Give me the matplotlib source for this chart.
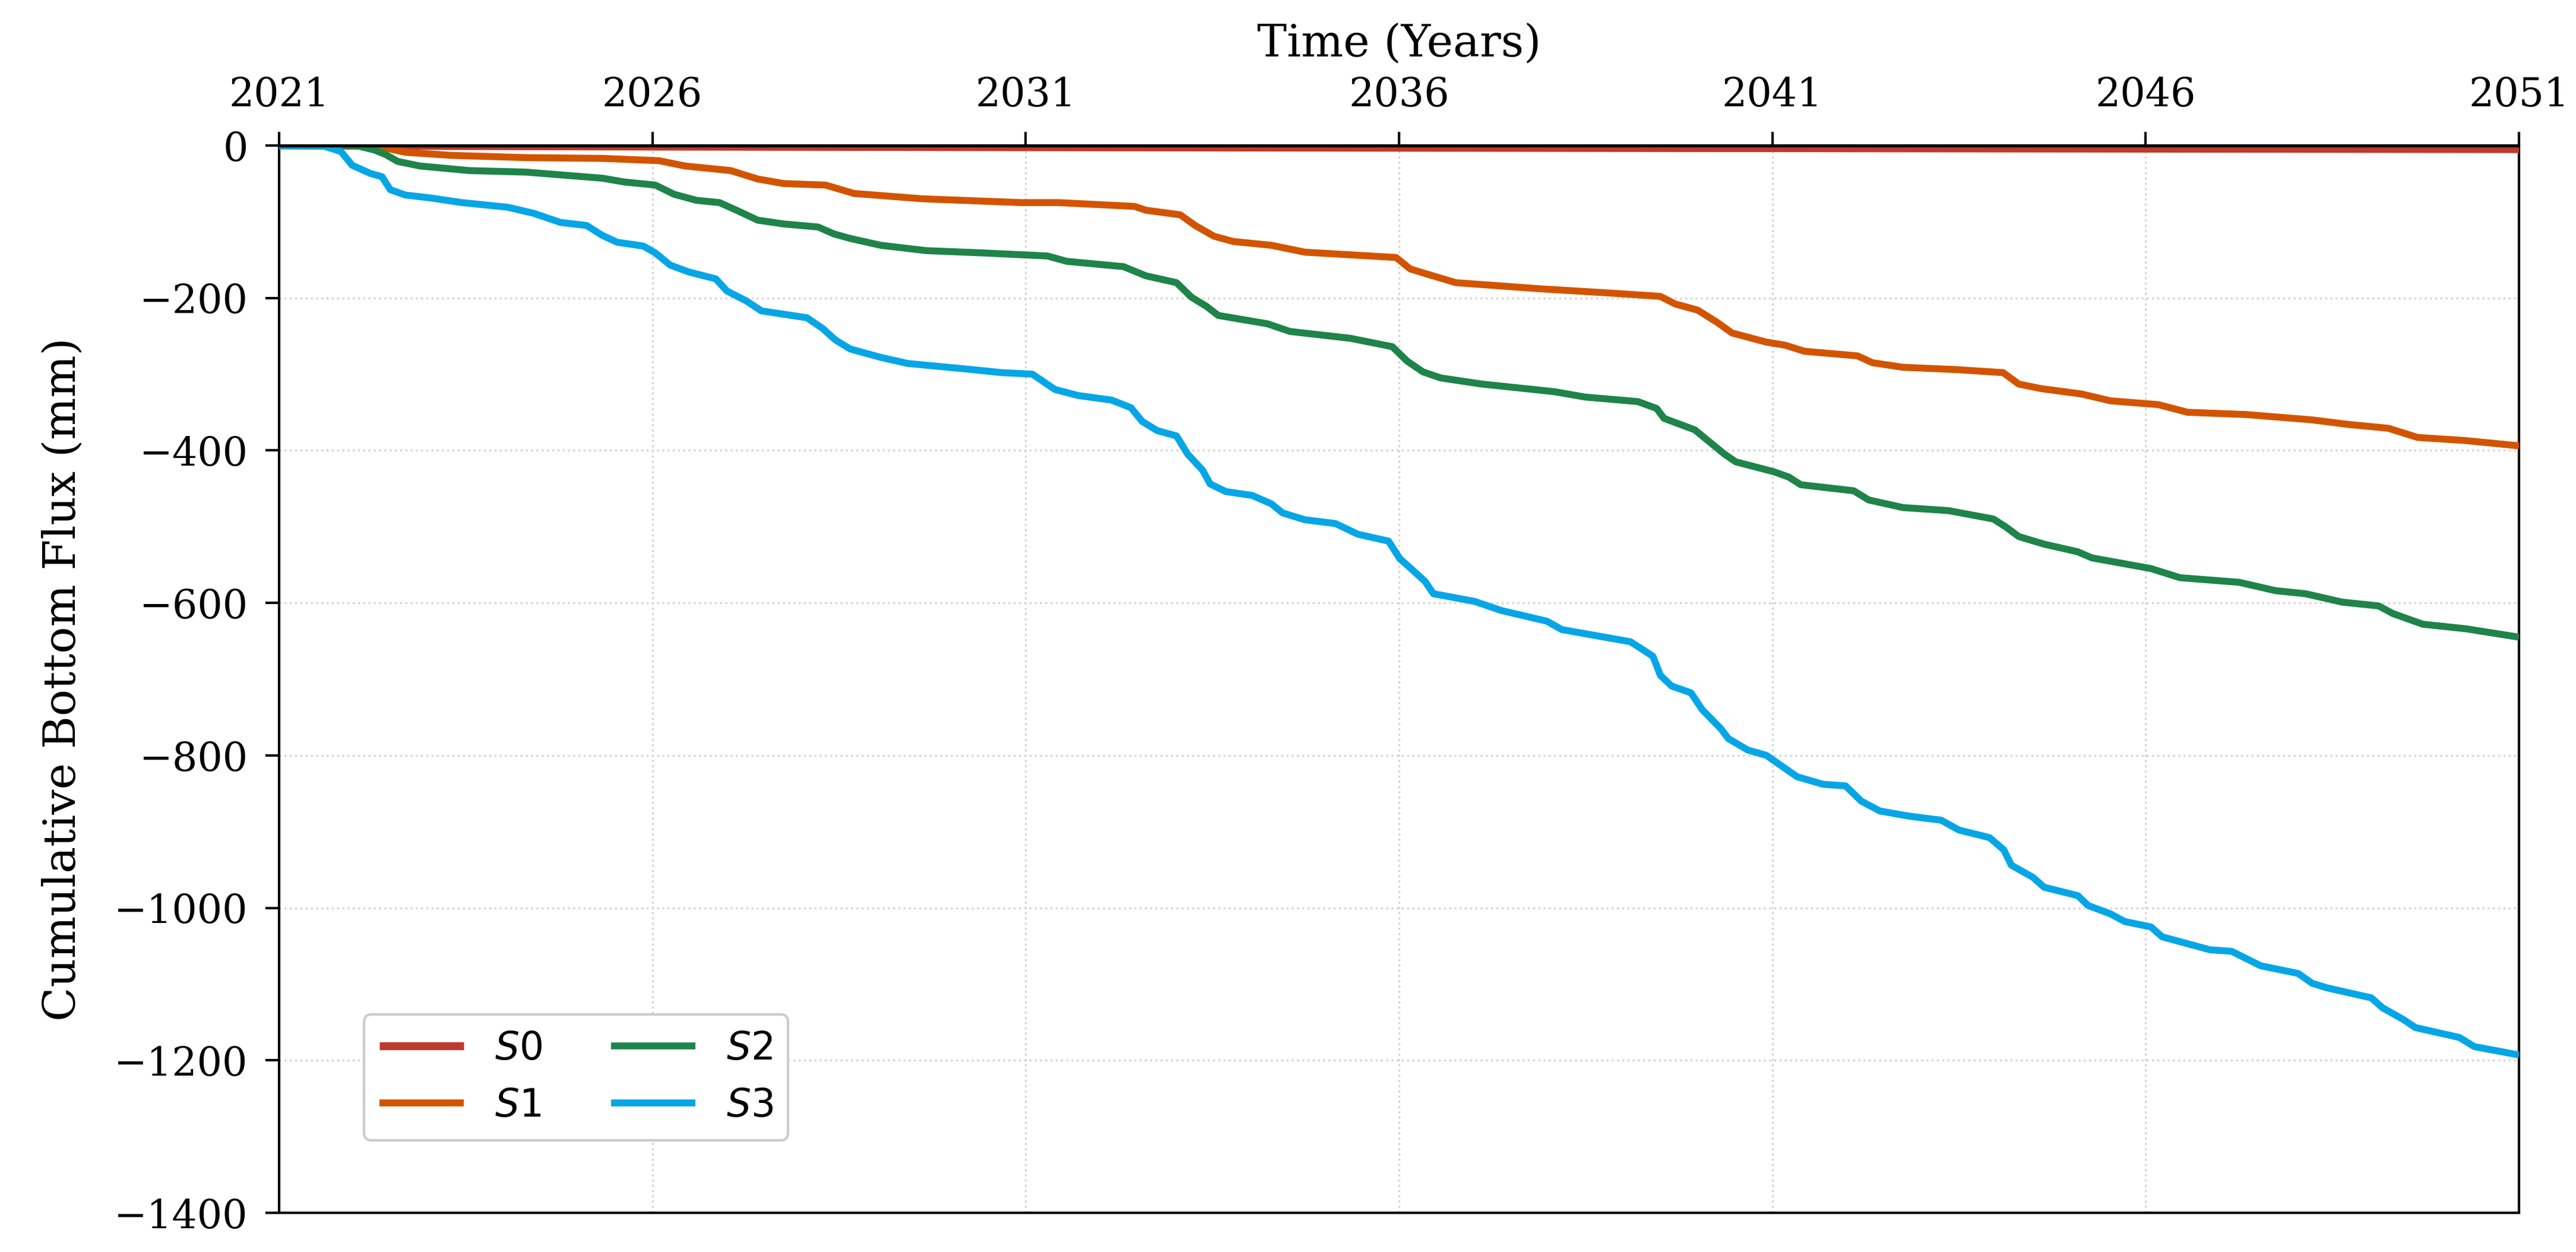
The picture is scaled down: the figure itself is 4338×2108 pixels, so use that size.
import matplotlib
matplotlib.use("Agg")
import matplotlib.pyplot as plt
import numpy as np

plt.rcParams['font.family'] = 'DejaVu Serif'
plt.rcParams['mathtext.fontset'] = 'dejavusans'

# values (decimal years, mm)
s0_years = [2021.0, 2022.5, 2026.0, 2031.0, 2036.0, 2041.0, 2046.0, 2051.0]
s0_flux = [0, -0.5, -1.5, -2.3, -3.0, -3.6, -4.2, -4.8]

s1_years = [2021.0, 2022.28, 2022.69, 2023.3, 2024.31, 2025.33, 2026.09, 2026.44, 2027.05, 2027.41,
            2027.76, 2028.32, 2028.7, 2029.62, 2030.94, 2031.44, 2032.46, 2032.61, 2033.07, 2033.27,
            2033.52, 2033.78, 2034.29, 2034.74, 2035.96, 2036.15, 2036.35, 2036.76, 2037.88, 2038.89,
            2039.5, 2039.7, 2040.0, 2040.26, 2040.46, 2040.92, 2041.17, 2041.43, 2042.14, 2042.34,
            2042.75, 2043.46, 2044.09, 2044.3, 2044.6, 2045.14, 2045.53, 2046.17, 2046.56, 2047.35,
            2048.23, 2048.72, 2049.25, 2049.64, 2050.27, 2051.0]
s1_flux = [0, 0, -9, -13, -16, -17, -20, -27, -33, -44,
           -50, -52, -63, -70, -75, -75, -80, -85, -91, -105,
           -119, -126, -131, -140, -147, -162, -168, -180, -188, -194,
           -198, -208, -216, -232, -246, -258, -262, -270, -276, -285,
           -291, -294, -298, -313, -319, -326, -335, -340, -350, -353,
           -360, -366, -371, -383, -387, -394]

s2_years = [2021.0, 2022.03, 2022.28, 2022.43, 2022.59, 2022.89, 2023.55, 2024.31, 2024.82, 2025.33,
            2025.63, 2026.04, 2026.29, 2026.59, 2026.9, 2027.15, 2027.41, 2027.76, 2028.22, 2028.43,
            2028.65, 2029.06, 2029.67, 2030.43, 2031.29, 2031.55, 2032.31, 2032.61, 2033.02, 2033.22,
            2033.42, 2033.58, 2034.24, 2034.54, 2035.35, 2035.91, 2036.11, 2036.32, 2036.56, 2037.11,
            2038.08, 2038.49, 2039.2, 2039.45, 2039.55, 2039.96, 2040.11, 2040.36, 2040.51, 2041.02,
            2041.22, 2041.38, 2042.09, 2042.29, 2042.75, 2043.36, 2043.96, 2044.12, 2044.3, 2044.64,
            2045.09, 2045.28, 2046.07, 2046.46, 2047.25, 2047.74, 2048.14, 2048.63, 2049.12, 2049.31,
            2049.71, 2050.29, 2051.0]
s2_flux = [0, 0, -6, -12, -21, -27, -33, -35, -39, -43,
           -48, -52, -64, -72, -75, -86, -98, -103, -107, -116,
           -122, -131, -138, -141, -145, -152, -159, -171, -180, -199,
           -211, -223, -234, -244, -253, -264, -283, -297, -305, -313,
           -323, -330, -336, -345, -358, -373, -385, -405, -415, -428,
           -435, -445, -453, -465, -475, -479, -490, -500, -513, -523,
           -533, -541, -555, -567, -573, -584, -588, -599, -604, -614,
           -628, -634, -645]

s3_years = [2021.0, 2021.57, 2021.83, 2021.98, 2022.23, 2022.38, 2022.49, 2022.69, 2023.04, 2023.45,
            2024.06, 2024.41, 2024.77, 2025.12, 2025.33, 2025.53, 2025.88, 2026.04, 2026.24, 2026.49,
            2026.85, 2027.0, 2027.26, 2027.46, 2028.07, 2028.28, 2028.45, 2028.65, 2029.06, 2029.42,
            2030.18, 2030.68, 2031.09, 2031.39, 2031.7, 2032.15, 2032.41, 2032.56, 2032.76, 2033.02,
            2033.17, 2033.37, 2033.47, 2033.68, 2034.03, 2034.29, 2034.44, 2034.74, 2035.15, 2035.45,
            2035.86, 2036.01, 2036.16, 2036.35, 2036.46, 2037.01, 2037.37, 2037.98, 2038.18, 2039.1,
            2039.4, 2039.5, 2039.65, 2039.91, 2040.06, 2040.31, 2040.41, 2040.67, 2040.92, 2041.33,
            2041.68, 2041.98, 2042.19, 2042.44, 2042.85, 2043.26, 2043.5, 2043.75, 2043.91, 2044.1,
            2044.2, 2044.49, 2044.64, 2045.09, 2045.23, 2045.53, 2045.72, 2046.07, 2046.22, 2046.86,
            2047.15, 2047.54, 2048.04, 2048.23, 2048.43, 2049.02, 2049.17, 2049.46, 2049.61, 2050.2,
            2050.4, 2051.0]
s3_flux = [0, 0, -8, -26, -37, -41, -58, -65, -69, -75,
           -81, -89, -101, -105, -118, -127, -132, -141, -157, -166,
           -175, -191, -204, -217, -226, -240, -255, -267, -278, -286,
           -293, -298, -300, -320, -328, -334, -344, -362, -374, -381,
           -405, -426, -444, -454, -459, -470, -482, -491, -496, -510,
           -519, -542, -555, -572, -588, -598, -610, -624, -635, -651,
           -670, -695, -709, -718, -740, -765, -778, -793, -800, -828,
           -838, -840, -860, -873, -880, -885, -898, -904, -908, -924,
           -944, -960, -973, -984, -997, -1008, -1018, -1025, -1038, -1055,
           -1057, -1076, -1086, -1099, -1105, -1118, -1131, -1147, -1157, -1170,
           -1182, -1193]

labels = ['$S0$', '$S1$', '$S2$', '$S3$']
colors = ['#C0392B', '#D35400', '#1E8449', '#06A6E6']
widths = [3.2, 2.8, 2.8, 2.8]
x_ticks = [2021, 2026, 2031, 2036, 2041, 2046, 2051]
y_ticks = list(range(-1400, 1, 200))

fig = plt.figure(figsize=(14.46, 7.027), dpi=300)
ax = fig.add_axes([0.1083, 0.0313, 0.8696, 0.8525])

series = [(s0_years, s0_flux), (s1_years, s1_flux), (s2_years, s2_flux), (s3_years, s3_flux)]
for (yrs, vals), lab, col, lw in zip(series, labels, colors, widths):
    ax.plot(yrs, vals, color=col, lw=lw, label=lab, solid_joinstyle='round',
            solid_capstyle='butt', zorder=3)

ax.axhline(0, color='black', lw=1.3, zorder=4)

ax.set_xlim(2021, 2051)
ax.set_ylim(-1400, 0)
ax.set_xticks(x_ticks)
ax.set_yticks(y_ticks)
ax.xaxis.tick_top()
ax.xaxis.set_label_position('top')
ax.tick_params(axis='both', direction='out', length=5.5, width=1.0, labelsize=16, pad=7)
ax.set_xlabel('Time (Years)', fontsize=18, labelpad=8)
ax.set_ylabel('Cumulative Bottom Flux (mm)', fontsize=18, labelpad=12)

ax.grid(True, linestyle=':', color='#d4d4d4', lw=0.8)
for sp in ax.spines.values():
    sp.set_linewidth(1.0)
    sp.set_color('black')

leg = ax.legend(ncol=2, loc='lower left', bbox_to_anchor=(0.038, 0.068), borderaxespad=0,
                fontsize=15.5, frameon=True, fancybox=True, framealpha=1.0, edgecolor='#cccccc',
                columnspacing=1.8, handlelength=2.2)
leg.get_frame().set_linewidth(1.0)

fig.savefig('out.png', dpi=300)
plt.close(fig)
